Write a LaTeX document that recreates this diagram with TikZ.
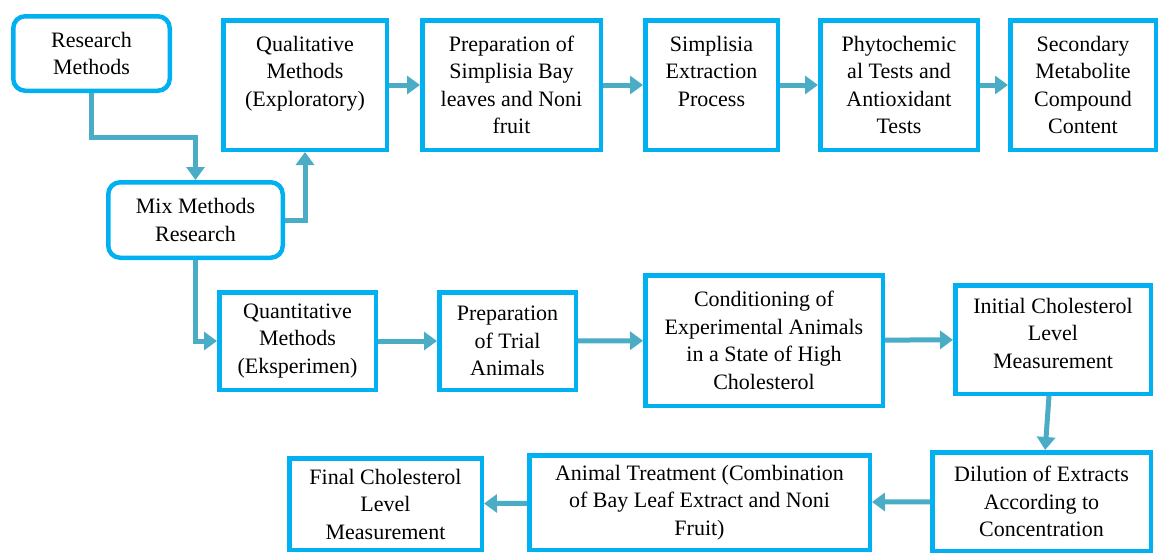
\documentclass[tikz,border=0pt]{standalone}
\usepackage{fontspec}
\setmainfont{Liberation Serif}
\newfontfamily\boxfont{Liberation Serif}
\usepackage{tikz}
\usetikzlibrary{arrows.meta}
\definecolor{boxcyan}{RGB}{0,176,240}
\definecolor{linkblue}{RGB}{75,172,198}

\begin{document}
\begin{tikzpicture}[x=1pt, y=-1pt,
    stage/.style={draw=boxcyan, line width=4.5pt, fill=white, align=center, inner sep=2pt,
      font=\boxfont\fontsize{22}{27.5}\selectfont},
    roundstage/.style={stage, rounded corners=12pt},
    conn/.style={draw=linkblue, line width=5pt, -{Triangle[length=13pt, width=18pt]}}]
    \useasboundingbox (0,0) rectangle (1159,554);

    % 第一行
    \node[roundstage, minimum width=156.5pt, minimum height=74.5pt] (rm) at (91.5,53.5) {Research\\Methods};
    \node[stage, minimum width=163.5pt, minimum height=129.5pt] (qual) at (305,85) {Qualitative\\Methods\\(Exploratory)\\\mbox{}};
    \node[stage, minimum width=178.5pt, minimum height=129.5pt] (prep) at (511.5,85) {Preparation of\\Simplisia Bay\\leaves and Noni\\fruit};
    \node[stage, minimum width=132.5pt, minimum height=129.5pt] (extr) at (711.5,85) {Simplisia\\Extraction\\Process\\\mbox{}};
    \node[stage, minimum width=157.5pt, minimum height=129.5pt] (phyto) at (899,85) {Phytochemic\\al Tests and\\Antioxidant\\Tests};
    \node[stage, minimum width=145.5pt, minimum height=129.5pt] (sec) at (1083,85) {Secondary\\Metabolite\\Compound\\Content};

    % 中间
    \node[roundstage, minimum width=174.5pt, minimum height=75.5pt] (mix) at (195.5,220) {Mix Methods\\Research};

    % 第二行
    \node[stage, minimum width=156.5pt, minimum height=97.5pt] (quant) at (297.5,341) {Quantitative\\Methods\\(Eksperimen)};
    \node[stage, minimum width=136.5pt, minimum height=97.5pt] (trial) at (507.5,341) {Preparation\\of Trial\\Animals};
    \node[stage, minimum width=237.5pt, minimum height=130.5pt] (cond) at (764,340.5) {Conditioning of\\Experimental Animals\\in a State of High\\Cholesterol};
    \node[stage, minimum width=195.5pt, minimum height=108.5pt] (init) at (1053,339.5) {Initial Cholesterol\\Level\\Measurement\\[-15pt]\mbox{}};

    % 第三行
    \node[stage, minimum width=218.5pt, minimum height=98.5pt] (dil) at (1041.5,501.5) {Dilution of Extracts\\According to\\Concentration};
    \node[stage, minimum width=340.5pt, minimum height=94.5pt] (anim) at (699.5,502.5) {Animal Treatment (Combination\\of Bay Leaf Extract and Noni\\Fruit)};
    \node[stage, minimum width=192.5pt, minimum height=91.5pt] (final) at (385.5,504) {Final Cholesterol\\Level\\Measurement};

    % 连线
    \draw[conn] (rm) -- (rm |- 0,137) -| (mix);
    \draw[conn] (mix) -| (qual);
    \draw[conn] (qual) -- (prep);
    \draw[conn] (prep) -- (extr);
    \draw[conn] (extr) -- (phyto);
    \draw[conn] (phyto) -- (sec);
    \draw[conn] (mix) |- (quant);
    \draw[conn] (quant) -- (trial);
    \draw[conn] (trial) -- (cond);
    \draw[conn] (cond) -- (init);
    \draw[conn] (init) -- (dil);
    \draw[conn] (dil) -- (anim);
    \draw[conn] (anim) -- (final);
\end{tikzpicture}
\end{document}
